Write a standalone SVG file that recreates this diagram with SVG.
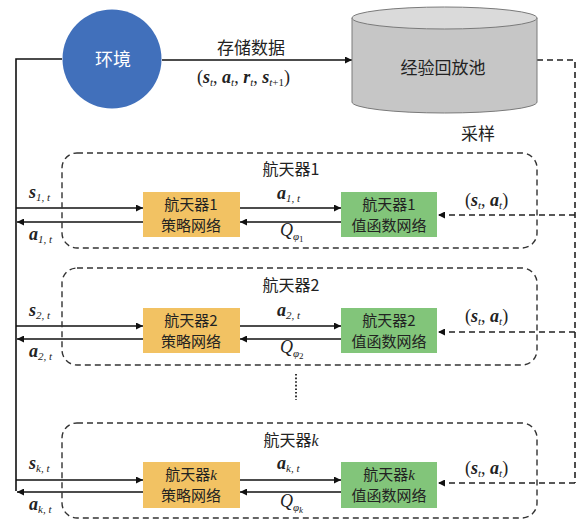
<svg xmlns="http://www.w3.org/2000/svg" width="581" height="523" viewBox="0 0 581 523">
<defs>
<style>
.cn{font-family:"Noto Sans CJK SC","Liberation Sans",sans-serif;fill:#222;}
.m{font-family:"Liberation Serif",serif;font-size:18px;fill:#222;}
.bi{font-weight:bold;font-style:italic;}
.sub{font-style:italic;font-size:11px;font-weight:normal;}
.ln{stroke:#111;stroke-width:1.6;fill:none;}
.dl{stroke:#222;stroke-width:1.6;fill:none;stroke-dasharray:6 4;}
.grp{stroke:#333;stroke-width:1.4;fill:none;stroke-dasharray:6 4;}
.pol{fill:#F2C263;}
.val{fill:#82C57A;}
.bt{font-family:"Noto Sans CJK SC","Liberation Serif",serif;font-size:15px;fill:#222;text-anchor:middle;}
.tt{font-family:"Noto Sans CJK SC","Liberation Serif",serif;font-size:16px;fill:#222;text-anchor:middle;}
</style>
<marker id="ah" viewBox="0 0 10 10" refX="10" refY="5" markerWidth="9" markerHeight="7" markerUnits="userSpaceOnUse" orient="auto">
<path d="M0,0 L10,5 L0,10 z" fill="#111"/>
</marker>
</defs>
<rect width="581" height="523" fill="#fff"/>

<g id="connectors">
<path class="ln" d="M62,59 H16 V491"/>
<path class="ln" d="M162,60 H352" marker-end="url(#ah)"/>
<path class="dl" d="M537,60 H575 V483"/>
<path class="dl" d="M575,215 H438" marker-end="url(#ah)"/>
<path class="dl" d="M575,332 H438" marker-end="url(#ah)"/>
<path class="dl" d="M575,483 H438" marker-end="url(#ah)"/>
<path class="ln" d="M16,208 H143" marker-end="url(#ah)"/>
<path class="ln" d="M143,222 H17" marker-end="url(#ah)"/>
<path class="ln" d="M240,208 H341" marker-end="url(#ah)"/>
<path class="ln" d="M341,222 H240" marker-end="url(#ah)"/>
<path class="ln" d="M16,326 H143" marker-end="url(#ah)"/>
<path class="ln" d="M143,339 H17" marker-end="url(#ah)"/>
<path class="ln" d="M240,326 H341" marker-end="url(#ah)"/>
<path class="ln" d="M341,339 H240" marker-end="url(#ah)"/>
<path class="ln" d="M16,480 H143" marker-end="url(#ah)"/>
<path class="ln" d="M143,492 H17" marker-end="url(#ah)"/>
<path class="ln" d="M240,480 H341" marker-end="url(#ah)"/>
<path class="ln" d="M341,492 H240" marker-end="url(#ah)"/>
<path d="M296,374 V400" stroke="#333" stroke-width="2" stroke-dasharray="1.6 2" fill="none"/>
</g>

<g id="env">
<circle cx="112" cy="59" r="49.5" fill="#4170BB"/>
<text x="113" y="66" class="cn" font-size="18" style="fill:#fff" text-anchor="middle">环境</text>
</g>

<g id="store-label">
<text x="251" y="54" class="cn" font-size="17" text-anchor="middle">存储数据</text>
<text x="197" y="83" class="m">(<tspan class="bi">s</tspan><tspan class="sub" dy="3">t</tspan><tspan dy="-3">, </tspan><tspan class="bi">a</tspan><tspan class="sub" dy="3">t</tspan><tspan dy="-3">, </tspan><tspan class="bi">r</tspan><tspan class="sub" dy="3">t</tspan><tspan dy="-3">, </tspan><tspan class="bi">s</tspan><tspan class="sub" dy="3">t</tspan><tspan class="sub" style="font-style:normal">+1</tspan><tspan dy="-3">)</tspan></text>
</g>

<g id="replay">
<path d="M352,18 V102 A92.5,11 0 0 0 537,102 V18 Z" fill="#C6C6C6" stroke="#7a7a7a" stroke-width="1"/>
<ellipse cx="444.5" cy="18" rx="92.5" ry="11" fill="#DADADA" stroke="#7a7a7a" stroke-width="1"/>
<text x="443" y="74" class="cn" font-size="17" text-anchor="middle">经验回放池</text>
</g>

<g id="sample-label">
<text x="478" y="140" class="cn" font-size="17" text-anchor="middle">采样</text>
</g>

<g id="sc1">
<rect x="62" y="153" width="475" height="95" rx="15" class="grp"/>
<text x="291" y="175" class="tt">航天器1</text>
</g>
<g id="pol1">
<rect x="143" y="192" width="97" height="45" class="pol"/>
<text x="191" y="210" class="bt">航天器1</text>
<text x="191" y="231" class="bt">策略网络</text>
</g>
<g id="val1">
<rect x="341" y="192" width="96" height="45" class="val"/>
<text x="389" y="210" class="bt">航天器1</text>
<text x="389" y="231" class="bt">值函数网络</text>
</g>
<g id="lab1">
<text x="29" y="198" class="m"><tspan class="bi">s</tspan><tspan class="sub" dy="3">1, t</tspan></text>
<text x="29" y="240" class="m"><tspan class="bi">a</tspan><tspan class="sub" dy="3">1, t</tspan></text>
<text x="277" y="199" class="m"><tspan class="bi">a</tspan><tspan class="sub" dy="3">1, t</tspan></text>
<text x="280" y="236" class="m" font-style="italic">Q<tspan class="sub" dy="4">φ</tspan><tspan font-size="9" font-style="normal" dy="2">1</tspan></text>
<text x="465" y="206" class="m">(<tspan class="bi">s</tspan><tspan class="sub" dy="3">t</tspan><tspan dy="-3">, </tspan><tspan class="bi">a</tspan><tspan class="sub" dy="3">t</tspan><tspan dy="-3">)</tspan></text>
</g>

<g id="sc2">
<rect x="62" y="268" width="475" height="97" rx="15" class="grp"/>
<text x="291" y="291" class="tt">航天器2</text>
</g>
<g id="pol2">
<rect x="143" y="308" width="97" height="45" class="pol"/>
<text x="191" y="326" class="bt">航天器2</text>
<text x="191" y="347" class="bt">策略网络</text>
</g>
<g id="val2">
<rect x="341" y="308" width="96" height="45" class="val"/>
<text x="389" y="326" class="bt">航天器2</text>
<text x="389" y="347" class="bt">值函数网络</text>
</g>
<g id="lab2">
<text x="29" y="316" class="m"><tspan class="bi">s</tspan><tspan class="sub" dy="3">2, t</tspan></text>
<text x="29" y="357" class="m"><tspan class="bi">a</tspan><tspan class="sub" dy="3">2, t</tspan></text>
<text x="277" y="316" class="m"><tspan class="bi">a</tspan><tspan class="sub" dy="3">2, t</tspan></text>
<text x="280" y="353" class="m" font-style="italic">Q<tspan class="sub" dy="4">φ</tspan><tspan font-size="9" font-style="normal" dy="2">2</tspan></text>
<text x="465" y="322" class="m">(<tspan class="bi">s</tspan><tspan class="sub" dy="3">t</tspan><tspan dy="-3">, </tspan><tspan class="bi">a</tspan><tspan class="sub" dy="3">t</tspan><tspan dy="-3">)</tspan></text>
</g>

<g id="sck">
<rect x="62" y="423" width="475" height="95" rx="15" class="grp"/>
<text x="291" y="446" class="tt">航天器<tspan font-family="Liberation Serif" font-style="italic">k</tspan></text>
</g>
<g id="polk">
<rect x="143" y="462" width="97" height="46" class="pol"/>
<text x="191" y="480" class="bt">航天器<tspan font-family="Liberation Serif" font-style="italic">k</tspan></text>
<text x="191" y="501" class="bt">策略网络</text>
</g>
<g id="valk">
<rect x="341" y="462" width="96" height="46" class="val"/>
<text x="389" y="480" class="bt">航天器<tspan font-family="Liberation Serif" font-style="italic">k</tspan></text>
<text x="389" y="501" class="bt">值函数网络</text>
</g>
<g id="labk">
<text x="29" y="469" class="m"><tspan class="bi">s</tspan><tspan class="sub" dy="3">k, t</tspan></text>
<text x="29" y="510" class="m"><tspan class="bi">a</tspan><tspan class="sub" dy="3">k, t</tspan></text>
<text x="277" y="469" class="m"><tspan class="bi">a</tspan><tspan class="sub" dy="3">k, t</tspan></text>
<text x="280" y="507" class="m" font-style="italic">Q<tspan class="sub" dy="4">φ</tspan><tspan font-size="9" dy="2">k</tspan></text>
<text x="465" y="474" class="m">(<tspan class="bi">s</tspan><tspan class="sub" dy="3">t</tspan><tspan dy="-3">, </tspan><tspan class="bi">a</tspan><tspan class="sub" dy="3">t</tspan><tspan dy="-3">)</tspan></text>
</g>
</svg>
